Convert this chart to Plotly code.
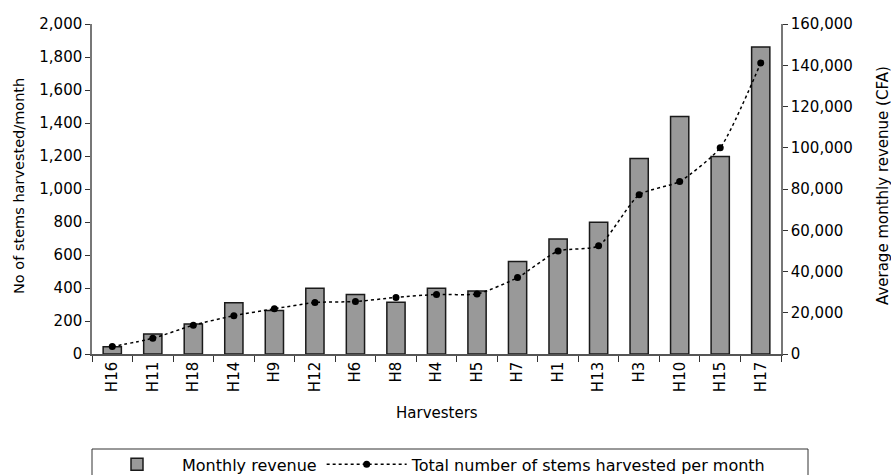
import plotly.graph_objects as go

harvesters = ["H16", "H11", "H18", "H14", "H9", "H12", "H6", "H8", "H4",
              "H5", "H7", "H1", "H13", "H3", "H10", "H15", "H17"]
monthly_revenue = [3500, 9700, 14500, 24800, 21100, 31900, 28900, 25100, 31900,
                   30500, 44900, 55800, 63900, 94800, 115100, 95800, 148900]
stems_per_month = [45, 95, 175, 232, 274, 312, 318, 343, 361,
                   364, 463, 624, 656, 965, 1046, 1250, 1764]

FONT = "DejaVu Sans"

fig = go.Figure()
# Bars: revenue on the right-hand axis (primary y, drawn first)
fig.add_trace(go.Bar(
    x=harvesters, y=monthly_revenue, name="Monthly revenue", yaxis="y",
    marker=dict(color="#999999", line=dict(color="#1a1a1a", width=1.5)),
))
# Line: stems on the left-hand axis (overlaying, drawn on top)
fig.add_trace(go.Scatter(
    x=harvesters, y=stems_per_month, name="Total number of stems harvested per month",
    yaxis="y2", mode="lines+markers",
    line=dict(color="black", width=1.5, dash="dot", shape="spline", smoothing=0.6),
    marker=dict(color="black", size=7),
))

LEG_TOP = -0.2879

fig.update_layout(
    width=891, height=475,
    margin=dict(l=92, r=110, t=24, b=121, autoexpand=False),
    paper_bgcolor="white", plot_bgcolor="white",
    font=dict(family=FONT, size=15, color="black"),
    bargap=0.55,
    showlegend=True,
    legend=dict(orientation="h", x=0, xanchor="left", y=LEG_TOP + 0.005, yanchor="top",
                borderwidth=0, font=dict(size=16), bgcolor="rgba(0,0,0,0)",
                itemwidth=80, traceorder="normal"),
    xaxis=dict(range=[-0.5, 16.5], tickangle=-90, showline=True, linecolor="#555555",
               linewidth=1.5, ticks="outside", ticklen=6, tickcolor="#333333",
               tickson="boundaries", showgrid=False, tickfont=dict(size=15)),
    yaxis=dict(range=[0, 160000], dtick=20000, tickformat=",", side="right",
               showline=True, linecolor="#777777", linewidth=1.5,
               ticks="outside", ticklen=5, tickcolor="#333333", showgrid=False,
               zeroline=False, tickfont=dict(size=15)),
    yaxis2=dict(range=[0, 2000], dtick=200, tickformat=",", overlaying="y",
                side="left", showline=True, linecolor="#777777", linewidth=1.5,
                ticks="outside", ticklen=5, tickcolor="#333333", showgrid=False,
                zeroline=False, tickfont=dict(size=15), ticklabelstandoff=0),
    shapes=[
        dict(type="rect", xref="paper", yref="paper", x0=0, x1=1.0392,
             y0=LEG_TOP, y1=-0.42, line=dict(color="#333333", width=1),
             fillcolor="rgba(0,0,0,0)", layer="below"),
    ],
    annotations=[
        dict(text="Harvesters", xref="paper", yref="paper", x=0.5, y=-0.179,
             showarrow=False, xanchor="center", yanchor="middle", font=dict(size=15)),
        dict(text="No of stems harvested/month", xref="paper", yref="paper",
             x=-0.107, y=0.51, textangle=-90, showarrow=False, xanchor="center",
             yanchor="middle", font=dict(size=14.5)),
        dict(text="Average monthly revenue (CFA)", xref="paper", yref="paper",
             x=1.147, y=0.51, textangle=-90, showarrow=False, xanchor="center",
             yanchor="middle", font=dict(size=15)),
    ],
)

fig.write_html("out.html", config={"displayModeBar": False},
               post_script="document.body.style.margin='0';document.body.style.overflow='hidden';")
